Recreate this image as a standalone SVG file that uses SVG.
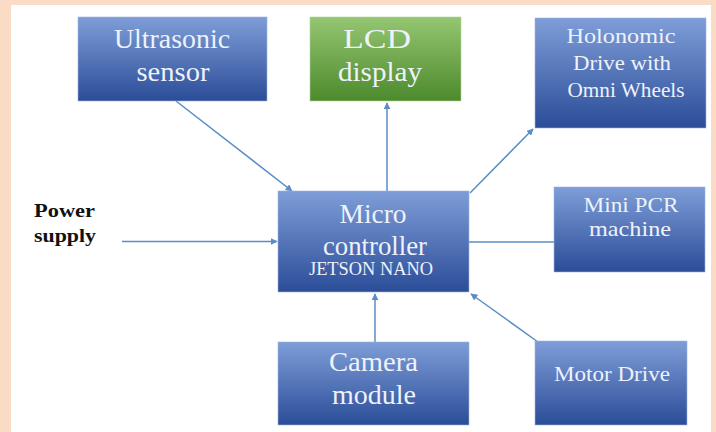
<svg xmlns="http://www.w3.org/2000/svg" width="716" height="432" viewBox="0 0 716 432">
<defs>
<linearGradient id="gBlue" x1="0" y1="0" x2="0" y2="1">
<stop offset="0" stop-color="#7e9dd8"/>
<stop offset="1" stop-color="#2b4d98"/>
</linearGradient>
<linearGradient id="gGreen" x1="0" y1="0" x2="0" y2="1">
<stop offset="0" stop-color="#95c672"/>
<stop offset="1" stop-color="#4c8a2c"/>
</linearGradient>
<marker id="ah" viewBox="0 0 10 10" refX="9" refY="5" markerWidth="7" markerHeight="7" markerUnits="userSpaceOnUse" orient="auto">
<path d="M0,0 L10,5 L0,10 z" fill="#5a8cc6"/>
</marker>
<style>
.blue{fill:url(#gBlue);stroke:#9fb4de;stroke-width:0.6}
.green{fill:url(#gGreen);stroke:#b3d39a;stroke-width:0.6}
.t{font-family:"Liberation Serif","Times New Roman",serif;fill:#eef2fb;text-anchor:middle}
.big{font-size:27px}
.mid{font-size:21px}
.sm{font-size:18px}
.pw{font-family:"Liberation Serif","Times New Roman",serif;font-weight:bold;font-size:19px;fill:#111}
.c{stroke:#5a8cc6;stroke-width:1.5;fill:none}
.ca{stroke:#5a8cc6;stroke-width:1.5;fill:none;marker-end:url(#ah)}
</style>
</defs>
<rect x="0" y="0" width="716" height="432" fill="#f9dbc6"/>
<rect x="11" y="5" width="700" height="427" fill="#ffffff"/>

<g id="connectors">
<line class="ca" x1="176" y1="101" x2="292" y2="191"/>
<line class="ca" x1="387" y1="191" x2="387" y2="103"/>
<line class="ca" x1="470" y1="193" x2="533" y2="129"/>
<line class="ca" x1="122" y1="241.5" x2="277" y2="241.5"/>
<line class="c" x1="469" y1="242" x2="554" y2="242"/>
<line class="ca" x1="375" y1="342" x2="375" y2="294"/>
<line class="ca" x1="538" y1="342" x2="471" y2="294"/>
</g>

<g id="power">
<text class="pw" x="34" y="217" textLength="61" lengthAdjust="spacingAndGlyphs">Power</text>
<text class="pw" x="34" y="242" textLength="62" lengthAdjust="spacingAndGlyphs">supply</text>
</g>

<g id="ultrasonic">
<rect class="blue" x="78" y="17" width="189" height="84"/>
<text class="t big" x="172" y="48" textLength="116" lengthAdjust="spacingAndGlyphs">Ultrasonic</text>
<text class="t big" x="173" y="81" textLength="73" lengthAdjust="spacingAndGlyphs">sensor</text>
</g>

<g id="lcd">
<rect class="green" x="310" y="17" width="151" height="84"/>
<text class="t big" x="377" y="48" textLength="68" lengthAdjust="spacingAndGlyphs">LCD</text>
<text class="t big" x="380" y="81" textLength="84" lengthAdjust="spacingAndGlyphs">display</text>
</g>

<g id="holonomic">
<rect class="blue" x="535" y="18" width="171" height="110"/>
<text class="t mid" x="621" y="43" textLength="109" lengthAdjust="spacingAndGlyphs">Holonomic</text>
<text class="t mid" x="622" y="70" textLength="98" lengthAdjust="spacingAndGlyphs">Drive with</text>
<text class="t mid" x="626" y="97" textLength="117" lengthAdjust="spacingAndGlyphs">Omni Wheels</text>
</g>

<g id="micro">
<rect class="blue" x="278" y="191" width="191" height="101"/>
<text class="t big" x="373" y="223" textLength="67" lengthAdjust="spacingAndGlyphs">Micro</text>
<text class="t big" x="375" y="255" textLength="104" lengthAdjust="spacingAndGlyphs">controller</text>
<text class="t sm" x="371" y="275" textLength="124" lengthAdjust="spacingAndGlyphs">JETSON NANO</text>
</g>

<g id="minipcr">
<rect class="blue" x="554" y="187" width="151" height="85"/>
<text class="t mid" x="631" y="212" textLength="95" lengthAdjust="spacingAndGlyphs">Mini PCR</text>
<text class="t mid" x="630" y="236" textLength="82" lengthAdjust="spacingAndGlyphs">machine</text>
</g>

<g id="camera">
<rect class="blue" x="278" y="342" width="191" height="83"/>
<text class="t big" x="373.5" y="371" textLength="89" lengthAdjust="spacingAndGlyphs">Camera</text>
<text class="t big" x="374" y="404" textLength="84" lengthAdjust="spacingAndGlyphs">module</text>
</g>

<g id="motor">
<rect class="blue" x="535" y="341" width="152" height="84"/>
<text class="t mid" x="612" y="381" textLength="116" lengthAdjust="spacingAndGlyphs">Motor Drive</text>
</g>
</svg>
